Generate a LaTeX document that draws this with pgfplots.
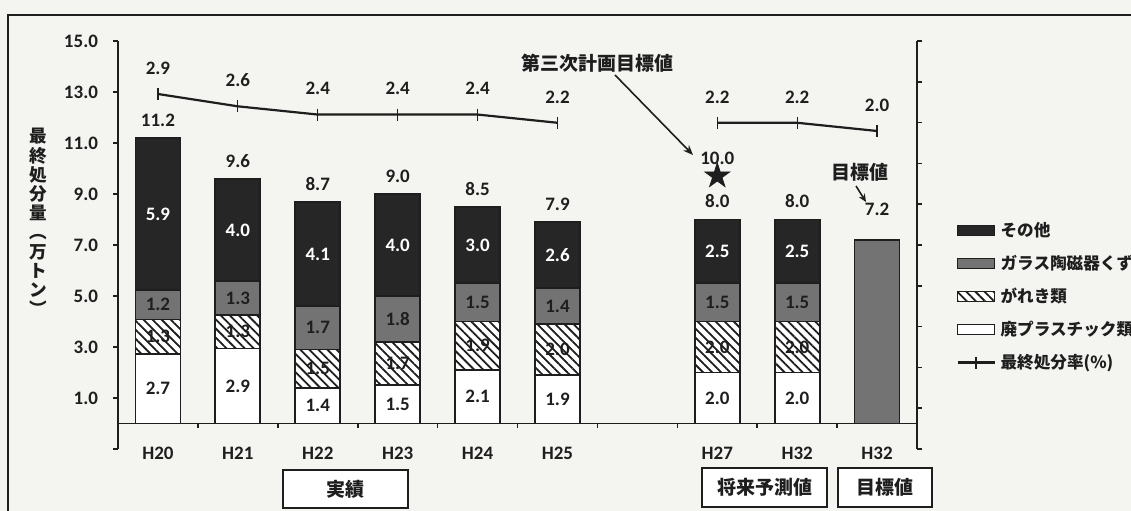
\documentclass[border=0pt]{standalone}
\usepackage{fontspec}
\setmainfont{Carlito}
\newfontfamily\jp{Noto Sans CJK JP}
\usepackage{pgfplots}
\usepackage{pgfplotstable}
\pgfplotsset{compat=1.18}
\usetikzlibrary{patterns.meta,arrows.meta}

\definecolor{bg}{RGB}{244,244,241}
\definecolor{ink}{RGB}{30,30,30}
\definecolor{darkbar}{RGB}{38,38,38}
\definecolor{graybar}{RGB}{115,115,115}

\newcommand\fs{\fontsize{9.5bp}{11.4bp}\selectfont\bfseries}
\newcommand\nf{\fontsize{9.5bp}{11.4bp}\selectfont\bfseries}

% filled five-pointed star
\pgfdeclareplotmark{fstar}{%
  \pgfpathmoveto{\pgfpointpolar{90}{\pgfplotmarksize}}%
  \pgfpathlineto{\pgfpointpolar{126}{0.382*\pgfplotmarksize}}%
  \pgfpathlineto{\pgfpointpolar{162}{\pgfplotmarksize}}%
  \pgfpathlineto{\pgfpointpolar{198}{0.382*\pgfplotmarksize}}%
  \pgfpathlineto{\pgfpointpolar{234}{\pgfplotmarksize}}%
  \pgfpathlineto{\pgfpointpolar{270}{0.382*\pgfplotmarksize}}%
  \pgfpathlineto{\pgfpointpolar{306}{\pgfplotmarksize}}%
  \pgfpathlineto{\pgfpointpolar{342}{0.382*\pgfplotmarksize}}%
  \pgfpathlineto{\pgfpointpolar{18}{\pgfplotmarksize}}%
  \pgfpathlineto{\pgfpointpolar{54}{0.382*\pgfplotmarksize}}%
  \pgfpathclose
  \pgfusepathqfillstroke
}

\pgfplotsset{
  /pgf/number format/assume math mode=true,
  boxleg/.style={legend image code/.code={%
    \draw[##1] (0bp,-2.5bp) rectangle (18.5bp,2.5bp);}},
  lineleg/.style={legend image code/.code={%
    \draw[##1, mark=none] (0bp,0bp) -- (18.5bp,0bp);
    \draw[ink, line width=0.6bp] (9.25bp,-3bp) -- (9.25bp,3bp);}},
  seg/.style 2 args={
    visualization depends on=\thisrow{#1} \as \rawy,
    nodes near coords={\pgfmathprintnumber[fixed,fixed zerofill,precision=1]{\rawy}},
    every node near coord/.append style={font=\nf, text=#2, anchor=center, inner sep=0pt},
  },
  toplabel/.style={
    nodes near coords={\pgfmathprintnumber[fixed,fixed zerofill,precision=1]{\pgfplotspointmeta}},
    every node near coord/.append style={font=\nf, text=ink, anchor=south, inner sep=0pt, yshift=#1},
  },
  frame/.style={at={(59bp,31bp)}, anchor=south west, width=399.5bp, height=204bp,
    scale only axis, xmin=-0.5, xmax=9.5, clip=false},
}

% x: 0..5 = H20..H25, 7 = H27, 8 = H32 (forecast)
\pgfplotstableread{
x plastic rubble glass other
0 2.74 1.34 1.16 5.94
1 2.94 1.32 1.32 4.02
2 1.4  1.5  1.7  4.1
3 1.5  1.7  1.8  4.0
4 2.1  1.9  1.5  3.0
5 1.9  2.0  1.4  2.6
7 2.0  2.0  1.5  2.5
8 2.0  2.0  1.5  2.5
}\wastetab

\pgfplotstableread{
x total
0 11.2
1 9.6
2 8.7
3 9.0
4 8.5
5 7.9
7 8.0
8 8.0
}\totaltab

\begin{document}
\begin{tikzpicture}[x=0.5bp,y=0.5bp]
\fill[bg] (0,0) rectangle (1131,511);
\useasboundingbox (0,0) rectangle (1131,511);
\draw[ink, line width=1bp] (8,0) -- (8,496) -- (1131,496);

% stacked bars, left axis
\begin{axis}[frame,
  ymin=-1, ymax=15,
  axis y line*=left, axis x line*=middle,
  axis line style={ink, line width=0.9bp, -},
  ybar stacked, bar width=22.5bp,
  xtick={0,...,9}, xticklabels={H20,H21,H22,H23,H24,H25,,H27,H32,H32},
  minor xtick={0.5,1.5,...,8.5},
  major x tick style={draw=none},
  ytick={-1,1,...,15}, yticklabels={,1.0,3.0,5.0,7.0,9.0,11.0,13.0,15.0},
  tick align=outside, major tick length=2.5bp, minor tick length=2.5bp,
  tick style={ink, line width=0.8bp},
  ticklabel style={font=\nf, text=ink},
  xticklabel style={yshift=-6bp},
  yticklabel style={xshift=-4bp},
  legend style={at={(1.0488,0.561)}, anchor=north west, draw=none, fill=none,
    font=\jp\fontsize{8.3bp}{10bp}\selectfont\bfseries, text=ink, inner sep=0pt,
    row sep=6.5bp, column sep=2.5bp,
    nodes={inner sep=0pt, text height=8bp, text depth=2bp}, legend cell align=left},
  reverse legend,
]
\addlegendimage{lineleg, ink, line width=1.1bp}
\addplot[boxleg, fill=white, draw=ink, line width=0.9bp, seg={plastic}{ink}]
  table[x=x, y=plastic] {\wastetab};
\addplot[boxleg, fill=white, draw=ink, line width=0.9bp, seg={rubble}{ink},
  postaction={pattern={Lines[angle=-45, distance=3.2bp, line width=0.9bp]}, pattern color=ink}]
  table[x=x, y=rubble] {\wastetab};
\addplot[boxleg, fill=graybar, draw=ink, line width=0.9bp, seg={glass}{ink}]
  table[x=x, y=glass] {\wastetab};
\addplot[boxleg, fill=darkbar, draw=ink, line width=0.9bp, seg={other}{white}]
  table[x=x, y=other] {\wastetab};
\legend{最終処分率(\%), 廃プラスチック類, がれき類, ガラス陶磁器くず, その他}
\end{axis}

% totals, target bar and third-plan star
\begin{axis}[frame, ymin=-1, ymax=15, hide axis]
\addplot[draw=none, mark=none, toplabel=5.5bp] table[x=x, y=total] {\totaltab};
\addplot[ybar, bar width=22.5bp, fill=graybar, draw=ink, line width=0.9bp, toplabel=11.5bp]
  coordinates {(9,7.2)};
\addplot[only marks, mark=fstar, mark size=6.5bp, ink, mark options={yshift=-3.75bp},
  toplabel=5.25bp] coordinates {(7,10.0)};
\end{axis}

% final disposal rate, right axis
\begin{axis}[frame, ymin=-5.737, ymax=4.19,
  axis x line=none, axis y line*=right,
  axis line style={ink, line width=0.9bp, -},
  ytick={-5.737,-4.7443,-3.7516,-2.7589,-1.7662,-0.7735,0.2192,1.2119,2.2046,3.1973,4.19},
  yticklabels={{},{},{},{},{},{},{},{},{},{},{}},
  tick align=outside, major tick length=2.5bp, tick style={ink, line width=0.8bp},
]
\addplot[ink, line width=1.1bp, mark=|, mark size=3bp, mark options={line width=0.6bp},
  toplabel=9.5bp] coordinates {(0,2.9) (1,2.6) (2,2.4) (3,2.4) (4,2.4) (5,2.2)};
\addplot[ink, line width=1.1bp, mark=|, mark size=3bp, mark options={line width=0.6bp},
  toplabel=9.5bp] coordinates {(7,2.2) (8,2.2) (9,2.0)};
\end{axis}

% y label (vertical)
\node[font=\jp\fontsize{8.8bp}{9.6bp}\selectfont\bfseries, text=ink, align=center] at (38,289)
  {最\\終\\処\\分\\量\\︵\\万\\ト\\ン\\︶};

% annotations
\node[font=\jp\fs, text=ink] at (597,448) {第三次計画目標値};
\draw[ink, line width=0.8bp, -{Stealth[length=5bp, width=4bp]}] (615,436) -- (693,356);
\node[font=\jp\fs, text=ink] at (860,339) {目標値};
\draw[ink, line width=0.8bp, -{Stealth[length=4bp, width=3.5bp]}] (856,325) -- (866,309);

% group boxes
\draw[ink, line width=1bp, fill=white] (283,3) rectangle (408,41);
\node[font=\jp\fs, text=ink] at (345.5,22) {実績};
\draw[ink, line width=1bp, fill=white] (702,4) rectangle (827,43);
\node[font=\jp\fs, text=ink] at (764.5,23.5) {将来予測値};
\draw[ink, line width=1bp, fill=white] (838,4) rectangle (932,43);
\node[font=\jp\fs, text=ink] at (885,23.5) {目標値};
\end{tikzpicture}
\end{document}
